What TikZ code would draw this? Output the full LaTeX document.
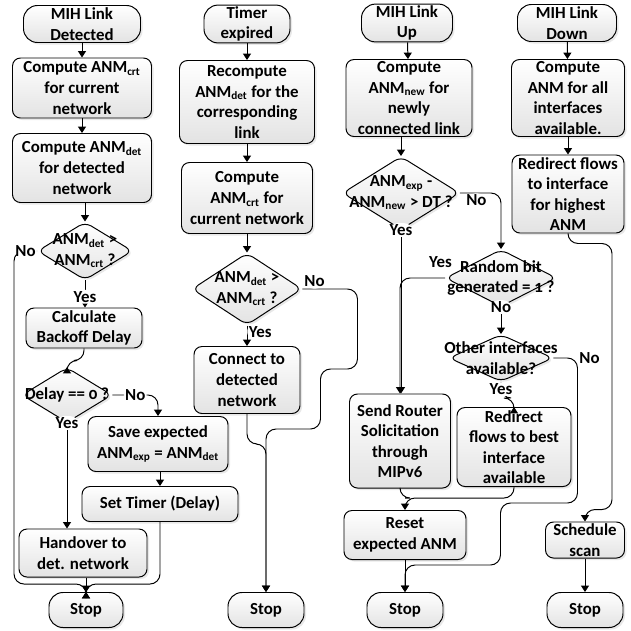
\documentclass[tikz,border=0pt]{standalone}
\usepackage{fontspec}
\setmainfont{Carlito}[Numbers=OldStyle]
\usepackage{tikz}
\usetikzlibrary{shapes.geometric, arrows.meta, shadows}
\newcommand{\boxfont}{\fontsize{12}{14.6}\selectfont\bfseries}
\newcommand{\anm}[1]{ANM\textsubscript{#1}}

\begin{document}
\begin{tikzpicture}[
    x=0.25mm, y=-0.25mm,
    box/.style={rectangle, draw, rounded corners=2mm, line width=0.7pt, align=center, inner sep=1pt, font=\boxfont, top color=white, bottom color=gray!22, drop shadow={opacity=0.18, shadow xshift=0.5mm, shadow yshift=-0.5mm}},
    termbox/.style={box, rounded corners=3.5mm},
    decbox/.style={diamond, draw, rounded corners=1.8mm, line width=0.7pt, inner sep=0pt, top color=white, bottom color=gray!22, drop shadow={opacity=0.18, shadow xshift=0.5mm, shadow yshift=-0.5mm}},
    dectext/.style={align=center, inner sep=0pt, font=\boxfont},
    answer/.style={font=\boxfont, fill=white, inner sep=1pt},
    arrow/.style={-{Triangle[length=1.6mm, width=2mm]}, line width=0.7pt, rounded corners=2.5mm},
    line/.style={line width=0.7pt, rounded corners=2.5mm}
]
\useasboundingbox (0,0) rectangle (631,631);

% MIH Link Detected
\node[termbox, minimum width=29.25mm, minimum height=9.25mm] (t1) at (82,24) {MIH Link\\Detected};
\node[box, minimum width=34.75mm, minimum height=15mm] (c1a) at (82,88) {Compute \anm{crt}\\for current\\network};
\node[box, minimum width=34.75mm, minimum height=17.25mm] (c1b) at (82,168) {Compute \anm{det}\\for detected\\network};
\node[decbox, minimum width=23.75mm, minimum height=14.5mm] (d1) at (85,251) {};
\node[dectext] (d1t) at (d1) {\anm{det} >\\\anm{crt} ?};
\node[box, minimum width=29mm, minimum height=10mm] (calc) at (84,328) {Calculate\\Backoff Delay};
\node[decbox, minimum width=22.5mm, minimum height=13.75mm] (d2) at (67,395) {};
\node[dectext] (d2t) at (d2) {Delay == 0 ?};
\node[box, minimum width=35mm, minimum height=13.75mm] (save) at (158,444) {Save expected\\\anm{exp} = \anm{det}};
\node[box, minimum width=39mm, minimum height=8.75mm] (timer) at (160,504) {Set Timer (Delay)};
\node[box, minimum width=32mm, minimum height=12mm] (ho) at (83,553) {Handover to\\det. network};
\node[termbox, minimum width=18.5mm, minimum height=8.75mm] (stop1) at (86,610) {Stop};

% Timer expired
\node[termbox, minimum width=21.5mm, minimum height=8.25mm] (t2) at (247,24) {Timer\\expired};
\node[box, minimum width=33.75mm, minimum height=20.75mm] (r2) at (247,102) {Recompute\\\anm{det} for the\\corresponding\\link};
\node[box, minimum width=32.75mm, minimum height=17.75mm] (c2) at (247,198) {Compute\\\anm{crt} for\\current network};
\node[decbox, minimum width=27.5mm, minimum height=18mm] (d3) at (247,289) {};
\node[dectext] (d3t) at (d3) {\anm{det} >\\\anm{crt} ?};
\node[box, minimum width=26.5mm, minimum height=16.75mm] (con) at (247,380) {Connect to\\detected\\network};
\node[termbox, minimum width=19mm, minimum height=8.75mm] (stop2) at (266,610) {Stop};

% MIH Link Up
\node[termbox, minimum width=22.75mm, minimum height=9.25mm] (t3) at (407,23) {MIH Link\\Up};
\node[box, minimum width=31.5mm, minimum height=19.25mm] (c3) at (409,98) {Compute\\\anm{new} for\\newly\\connected link};
\node[decbox, minimum width=29.25mm, minimum height=18.25mm] (d4) at (401,193) {};
\node[dectext] (d4t) at (d4) {\anm{exp} -\\\anm{new} > DT ?};
\node[decbox, minimum width=27.75mm, minimum height=14.25mm] (d5) at (501,278) {};
\node[dectext] (d5t) at (d5) {Random bit\\generated = 1 ?};
\node[decbox, minimum width=26mm, minimum height=11.75mm] (d6) at (501,358) {};
\node[dectext] (d6t) at (d6) {Other interfaces\\available?};
\node[box, minimum width=25.25mm, minimum height=23.5mm] (send) at (400,441) {Send Router\\Solicitation\\through\\MIPv6};
\node[box, minimum width=28.5mm, minimum height=19.75mm] (red) at (514,447) {Redirect\\flows to best\\interface\\available};
\node[box, minimum width=30.5mm, minimum height=12.25mm] (reset) at (405,535) {Reset\\expected ANM};
\node[termbox, minimum width=19mm, minimum height=8.75mm] (stop3) at (405,610) {Stop};

% MIH Link Down
\node[termbox, minimum width=24.75mm, minimum height=9.25mm] (t4) at (567,23) {MIH Link\\Down};
\node[box, minimum width=28.25mm, minimum height=19.25mm] (c4) at (568,98) {Compute\\ANM for all\\interfaces\\available.};
\node[box, minimum width=28mm, minimum height=19.5mm] (rf4) at (568,194) {Redirect flows\\to interface\\for highest\\ANM};
\node[box, minimum width=19.75mm, minimum height=9mm] (sch) at (585,540) {Schedule\\scan};
\node[termbox, minimum width=19mm, minimum height=8.75mm] (stop4) at (585,610) {Stop};

% Arrows, first column
\draw[arrow] (t1) -- (c1a);
\draw[arrow] (c1a) -- (c1b);
\draw[arrow] (c1b.south -| d1.north) -- (d1.north);
\draw[arrow] (d1.south) -- node[answer, pos=0.6]{Yes} (d1.south |- calc.north);
\draw[arrow] (d1.west) -- node[answer]{No} ++(-23,0) |- ([yshift=2mm]stop1.north) -- (stop1.north);
\draw[arrow] (calc.south) -- ++(0,12) -| (d2.north);
\draw[arrow] (d2.south) -- node[answer, at start]{Yes} (d2.south |- ho.north);
\draw[arrow] (d2.east) -| node[answer, pos=0.25]{No} (save.north);
\draw[arrow] (save.south -| timer.north) -- (timer.north);
\draw[arrow] (timer.south) |- ([yshift=2mm]stop1.north) -- (stop1.north);
\draw[arrow] (stop1.north |- ho.south) -- (stop1.north);

% Arrows, second column
\draw[arrow] (t2) -- (r2);
\draw[arrow] (r2) -- (c2);
\draw[arrow] (c2) -- (d3);
\draw[arrow] (d3) -- node[answer, right, pos=0.3]{Yes} (con);
\draw[arrow] (d3.east) -- node[answer, anchor=south west, at start]{No} ++(55,0) -- ++(0,80) -- ++(-37,0) -- ++(0,60) -| (stop2.north);
\draw[arrow] (con.south) -- ++(0,30) -| (stop2.north);

% Arrows, third column
\draw[arrow] (t3) -- (c3);
\draw[arrow] (c3.south -| d4.north) -- (d4.north);
\draw[arrow] (d4.south) -- node[answer, at start]{Yes} (d4.south |- send.north);
\draw[arrow] (d4.east) -| node[answer, below, pos=0.2]{No} (d5.north);
\draw[arrow] (d5.west) -| node[answer, above, pos=0.05, yshift=2mm]{Yes} (send.north);
\draw[arrow] (d5.south) -- node[answer, at start]{No} (d6.north);
\draw[arrow] (d6.south) -- node[answer, anchor=north, at start]{Yes} ++(0,16) -| (red.north);
\draw[arrow] (d6.east) -- ++(24,0) node[answer, right]{No} -- ++(0,145) -- ++(-77,0) -- ++(0,62) -| (stop3.north);
\draw[line] (send.south) |- ([yshift=3mm]reset.north);
\draw[arrow] (red.south) |- ([yshift=3mm]reset.north) -- (reset.north);
\draw[arrow] (reset) -- (stop3);

% Arrows, fourth column
\draw[arrow] (t4) -- (c4);
\draw[arrow] (c4) -- (rf4);
\draw[arrow] (rf4.south) -- ++(0,10) -- ++(44,0) |- ([yshift=3mm]sch.north) -- (sch.north);
\draw[arrow] (sch) -- (stop4);

\end{tikzpicture}
\end{document}
